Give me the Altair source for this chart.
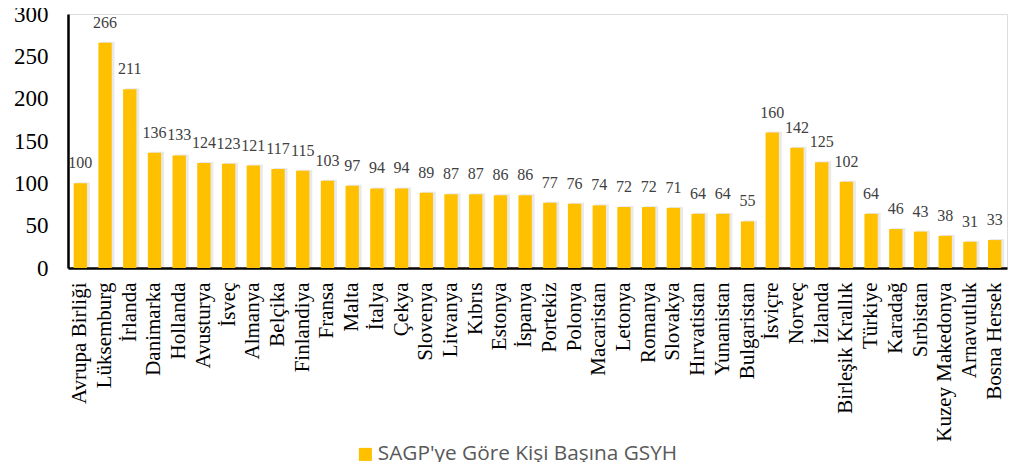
import altair as alt
import pandas as pd

countries = ["Avrupa Birliği", "Lüksemburg", "İrlanda", "Danimarka", "Hollanda", "Avusturya",
             "İsveç", "Almanya", "Belçika", "Finlandiya", "Fransa", "Malta", "İtalya", "Çekya",
             "Slovenya", "Litvanya", "Kıbrıs", "Estonya", "İspanya", "Portekiz", "Polonya",
             "Macaristan", "Letonya", "Romanya", "Slovakya", "Hırvatistan", "Yunanistan",
             "Bulgaristan", "İsviçre", "Norveç", "İzlanda", "Birleşik Krallık", "Türkiye",
             "Karadağ", "Sırbistan", "Kuzey Makedonya", "Arnavutluk", "Bosna Hersek"]
values = [100, 266, 211, 136, 133, 124, 123, 121, 117, 115, 103, 97, 94, 94, 89, 87, 87, 86, 86,
          77, 76, 74, 72, 72, 71, 64, 64, 55, 160, 142, 125, 102, 64, 46, 43, 38, 31, 33]
series = "SAGP'ye Göre Kişi Başına GSYH"

df = pd.DataFrame({"ulke": countries, "deger": values, "seri": series})

xscale = alt.Scale(paddingInner=0.46, paddingOuter=0.23)
x = alt.X("ulke:N", sort=countries, title=None, scale=xscale,
          axis=alt.Axis(labelAngle=-90, labelAlign="right", labelBaseline="middle",
                        labelFont="Liberation Serif", labelFontSize=21, labelColor="#000000",
                        labelPadding=14, ticks=False, domainColor="#000000", domainWidth=2.5,
                        labelLimit=300))
y = alt.Y("deger:Q", title=None,
          scale=alt.Scale(domain=[0, 300], nice=False),
          axis=alt.Axis(values=[0, 50, 100, 150, 200, 250, 300], grid=False, ticks=False,
                        labelFont="Liberation Serif", labelFontSize=23, labelColor="#000000",
                        labelPadding=20, domainColor="#000000", domainWidth=2.5))

shadow = alt.Chart(df).mark_bar(color="#9a9a9a", opacity=0.22, xOffset=2.5, yOffset=-1,
                                width=14).encode(x=x, y=y)

bars = alt.Chart(df).mark_bar(color="#FFC000").encode(
    x=x, y=y,
    color=alt.Color("seri:N", scale=alt.Scale(range=["#FFC000"]), title=None,
                    legend=alt.Legend(orient="none", legendX=287, legendY=430,
                                      symbolType="square", symbolSize=170,
                                      symbolStrokeWidth=0, labelFont="Open Sans",
                                      labelFontSize=20.8, labelColor="#595959",
                                      labelLimit=500, labelOffset=2)),
)
labels = alt.Chart(df).mark_text(font="Liberation Serif", fontSize=16, color="#404040",
                                 baseline="bottom", dy=-12).encode(
    x=x, y=y, text="deger:Q")

chart = (shadow + bars + labels).properties(
    width=939, height=254,
    autosize=alt.AutoSizeParams(type="none"),
    padding={"left": 60, "top": 6, "right": 4, "bottom": 194},
).configure_view(stroke="transparent").configure(background="#ffffff")

chart.save("out.html", embed_options={"renderer": "svg", "actions": False})
